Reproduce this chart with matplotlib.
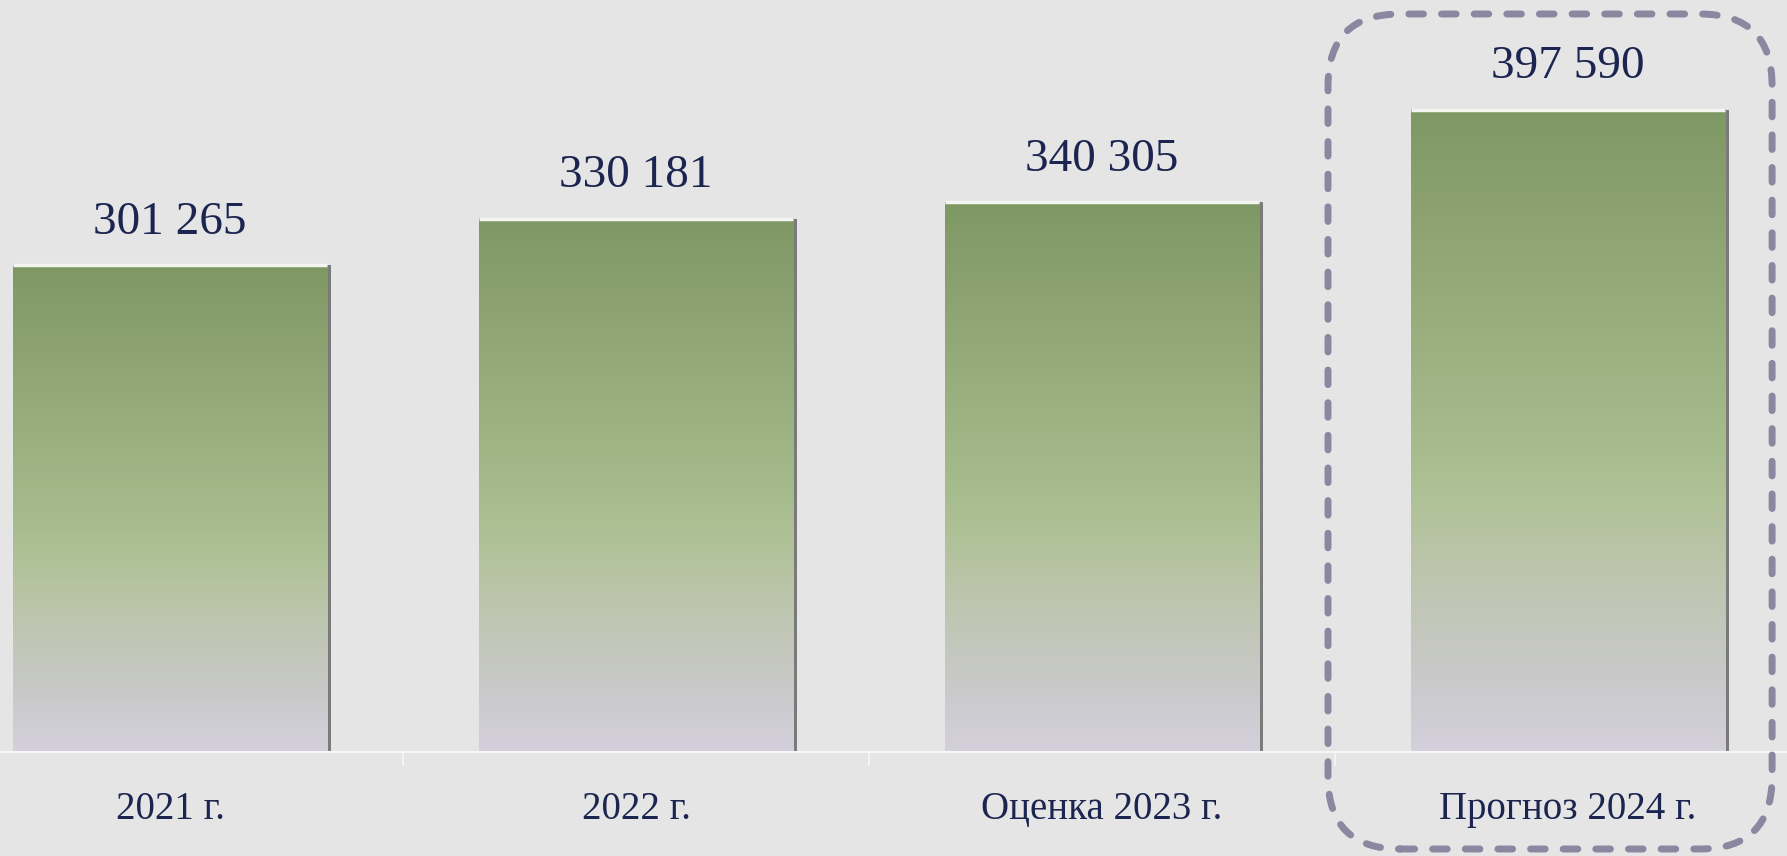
import matplotlib

matplotlib.use('Agg')
import matplotlib.pyplot as plt
import numpy as np
from matplotlib.colors import LinearSegmentedColormap
from matplotlib.patches import FancyBboxPatch
from matplotlib.transforms import IdentityTransform

# data
categories = ["2021 г.", "2022 г.", "Оценка 2023 г.", "Прогноз 2024 г."]
values = [301265, 330181, 340305, 397590]
value_labels = ["301 265", "330 181", "340 305", "397 590"]

bg = "#e5e5e5"
text_color = "#1c2550"
box_color = "#8c86a0"

# gradient of the bars, bottom -> top
grad = LinearSegmentedColormap.from_list("bar", [
    (0.00, "#d4d0dc"),
    (0.12, "#c9c9c9"),
    (0.29, "#bcc5ab"),
    (0.39, "#b0c298"),
    (0.49, "#a5bb8b"),
    (0.75, "#93a877"),
    (1.00, "#7e9864"),
])

plt.rcParams['font.family'] = ['Liberation Serif', 'DejaVu Serif']

fig = plt.figure(figsize=(17.87, 8.56), dpi=100)
fig.patch.set_facecolor(bg)

# axes are wider than the figure: the picture is a crop of a slide
W, H = 1787.0, 856.0
ax = fig.add_axes([-63 / W, 104 / H, 1864 / W, 752 / H])
ax.set_facecolor(bg)

x = np.arange(len(categories))
width = 0.675
ax.set_xlim(-0.5, len(categories) - 0.5)
ax.set_ylim(0, 465600)

# shadow on the right side
ax.bar(x + 0.009, values, width, color="#7a7a7a", zorder=1)

gradient = np.linspace(0, 1, 256).reshape(-1, 1)
for xi, v in zip(x, values):
    ax.imshow(gradient, cmap=grad, origin='lower', aspect='auto',
              extent=[xi - width / 2, xi + width / 2, 0, v], zorder=2)
    ax.hlines(v, xi - width / 2, xi + width / 2, color="#f4f4f0", lw=2.5, zorder=3)

for xi, v, lab in zip(x, values, value_labels):
    ax.annotate(lab, (xi, v), xytext=(0, 31), textcoords='offset points',
                ha='center', va='center', fontsize=34, color=text_color)

for s in ['top', 'right', 'left']:
    ax.spines[s].set_visible(False)
ax.spines['bottom'].set_color("#f7f7f7")
ax.spines['bottom'].set_linewidth(1.5)
ax.set_yticks([])

ax.set_xticks(x)
ax.set_xticklabels(categories, fontsize=28, color=text_color)
ax.tick_params(axis='x', which='major', length=0, pad=28)
ax.set_xticks(x[:-1] + 0.5, minor=True)
ax.tick_params(axis='x', which='minor', length=10, width=1.2, color="#f7f7f7")

# dashed rounded frame around the forecast bar
fig.canvas.draw()
x0, _ = ax.transData.transform((x[-1] - 0.515, 0))
x1, _ = ax.transData.transform((x[-1] + 0.438, 0))
y0, y1 = 7, 842
pad = 72
box = FancyBboxPatch((x0 + pad, y0 + pad), (x1 - x0) - 2 * pad, (y1 - y0) - 2 * pad,
                     boxstyle="round,pad=%d,rounding_size=%d" % (pad, pad),
                     transform=IdentityTransform(), fill=False,
                     edgecolor=box_color, lw=5, linestyle=(0, (2.1, 2.6)),
                     capstyle='round', zorder=5, clip_on=False)
fig.add_artist(box)

fig.savefig("out.png", dpi=100, facecolor=bg)
